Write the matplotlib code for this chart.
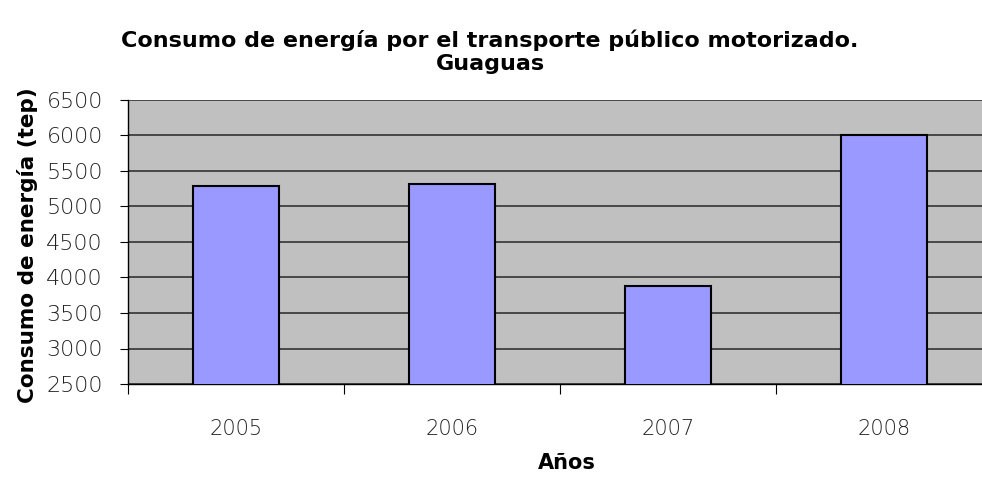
import matplotlib
matplotlib.use("Agg")
import matplotlib.pyplot as plt
import numpy as np

years = ["2005", "2006", "2007", "2008"]
consumo = [5290, 5320, 3875, 6010]
yticks = [2500, 3000, 3500, 4000, 4500, 5000, 5500, 6000, 6500]

W, H = 982, 478
fig = plt.figure(figsize=(W / 100, H / 100), dpi=100)
fig.patch.set_facecolor("white")

left, right, top, bottom = 128, 992, 100, 384
ax = fig.add_axes([left / W, 1 - bottom / H, (right - left) / W, (bottom - top) / H])
ax.set_facecolor("#C0C0C0")

x = np.arange(len(years))
ax.bar(x, consumo, width=0.4, color="#9999FF", edgecolor="black", linewidth=1.5, zorder=3)

ax.set_xlim(-0.5, len(years) - 0.5)
ax.set_ylim(yticks[0], yticks[-1])
ax.set_yticks(yticks)
ax.yaxis.grid(True, color="#333333", linewidth=1.2, zorder=1)
ax.set_axisbelow(True)

for s in ["top", "right"]:
    ax.spines[s].set_visible(False)
for s in ["left", "bottom"]:
    ax.spines[s].set_color("black")
    ax.spines[s].set_linewidth(1.0)

ax.set_xticks(np.arange(len(years) + 1) - 0.5)
ax.set_xticklabels([])
ax.set_xticks(x, minor=True)
ax.set_xticklabels(years, minor=True, fontsize=15, fontfamily="DejaVu Sans",
                   fontweight="light", color="#222222")
ax.tick_params(axis="x", which="major", length=7, direction="out", color="black")
ax.tick_params(axis="x", which="minor", length=0, pad=25)
ax.tick_params(axis="y", length=6, direction="out", color="black", pad=12,
               labelsize=16, labelcolor="#222222")
for lab in ax.get_yticklabels():
    lab.set_fontweight("light")

fig.text(490 / W, 1 - 40 / H, "Consumo de energía por el transporte público motorizado.",
         ha="center", va="center", fontsize=16, fontweight="bold")
fig.text(490 / W, 1 - 64 / H, "Guaguas",
         ha="center", va="center", fontsize=16, fontweight="bold")
fig.text(567 / W, 1 - 463 / H, "Años", ha="center", va="center",
         fontsize=15, fontweight="bold")
fig.text(28 / W, 1 - 245 / H, "Consumo de energía (tep)", ha="center", va="center",
         rotation=90, fontsize=15.5, fontweight="bold")

fig.savefig("out.png", dpi=100)
